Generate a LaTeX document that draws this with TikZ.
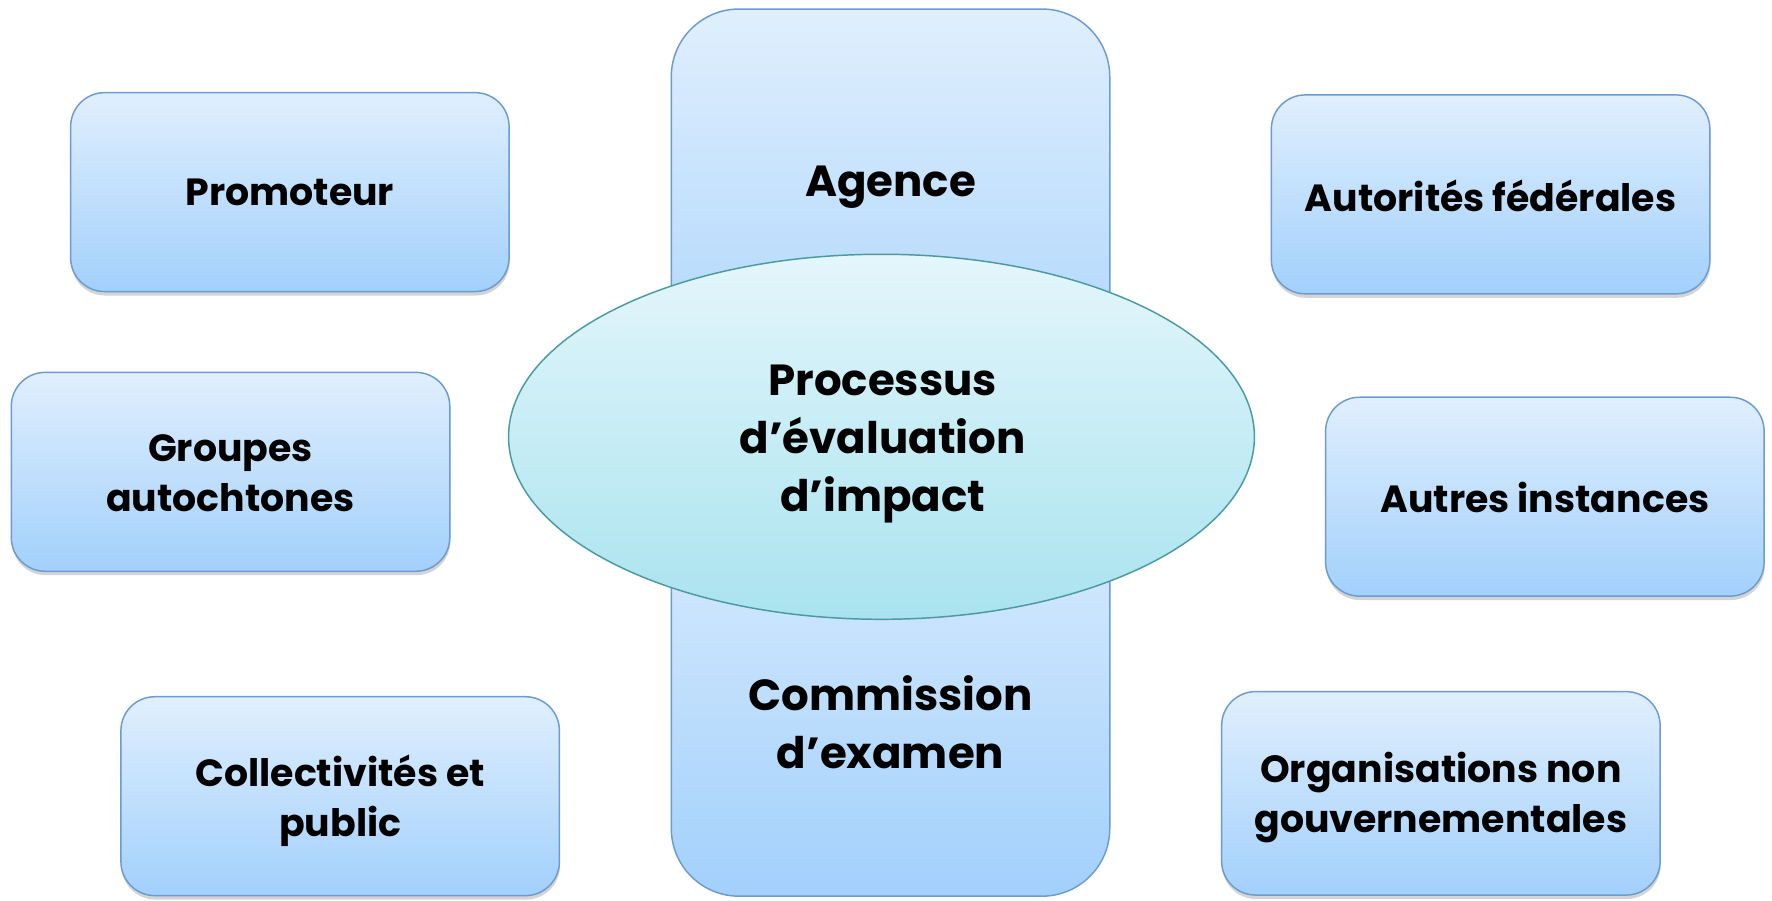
\documentclass[tikz,border=0pt]{standalone}
\usepackage{fontspec}
\setmainfont{Poppins}
\usetikzlibrary{shadows,shapes.geometric}
\definecolor{boxtop}{HTML}{E0EFFD}
\definecolor{boxbot}{HTML}{A2D0FC}
\definecolor{boxline}{HTML}{6C9BD2}
\definecolor{elltop}{HTML}{E4F6FB}
\definecolor{ellbot}{HTML}{A9E3EF}
\definecolor{ellline}{HTML}{4A9AA0}
\tikzset{
  sbox/.style={draw=boxline, line width=1.3pt, rounded corners=30pt, top color=boxtop, bottom color=boxbot,
    minimum width=388pt, minimum height=176pt, inner sep=0pt,
    drop shadow={shadow xshift=0.5pt, shadow yshift=-3.5pt, opacity=0.3, fill=black!55}},
  bbox/.style={draw=boxline, line width=1.3pt, rounded corners=60pt, top color=boxtop, bottom color=boxbot,
    minimum width=388pt, minimum height=393pt, inner sep=0pt},
  stxt/.style={font=\bfseries\fontsize{33.5}{44}\selectfont, align=center, text=black},
  btxt/.style={font=\bfseries\fontsize{38.5}{51}\selectfont, align=center, text=black},
}
\begin{document}
\begin{tikzpicture}[x=1pt, y=-1pt]
\useasboundingbox (0,0) rectangle (1568,797);
\fill[white] (0,0) rectangle (1568,797);
\node[bbox] (agence) at (788,204.5) {};
\node[bbox] (comm) at (788,596.5) {};
\node[btxt] (agencet) at (788,166) {Agence};
\node[btxt] (commt) at (788,639) {Commission\\d’examen};
\node[draw=ellline, line width=1.3pt, ellipse, top color=elltop, bottom color=ellbot,
  minimum width=660pt, minimum height=323pt, inner sep=0pt] (proc) at (780,386.5) {};
\node[btxt] (proct) at (781,393) {Processus\\d’évaluation\\d’impact};
\node[sbox] (prom) at (256.5,170) {};
\node[stxt] (promt) at (256.5,170) {Promoteur};
\node[sbox] (grp) at (204,417.5) {};
\node[stxt] (grpt) at (204,419) {Groupes\\autochtones};
\node[sbox] (coll) at (301,704.5) {};
\node[stxt] (collt) at (301,708.5) {Collectivités et\\public};
\node[sbox] (aut) at (1319,172) {};
\node[stxt] (autt) at (1319,173) {Autorités fédérales};
\node[sbox] (autres) at (1367,439.5) {};
\node[stxt] (autrest) at (1367,440) {Autres instances};
\node[sbox, minimum height=180pt] (ong) at (1275,702) {};
\node[stxt] (ongt) at (1275,706) {Organisations non\\gouvernementales};
\end{tikzpicture}
\end{document}
